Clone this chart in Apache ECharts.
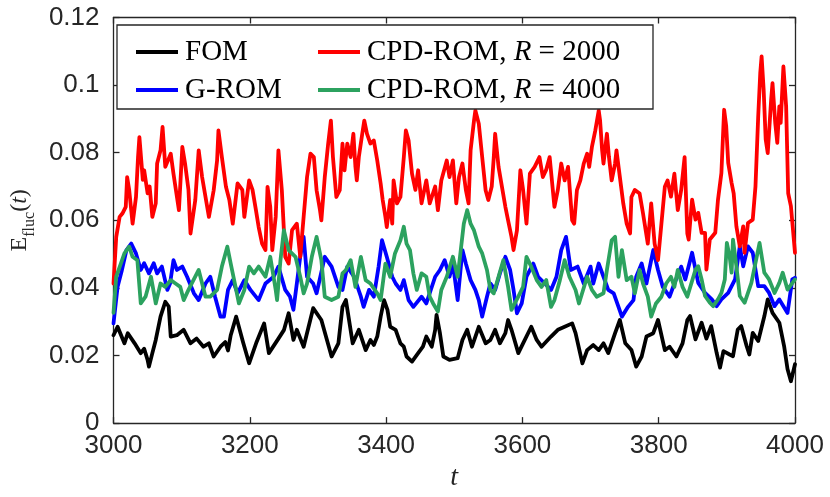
<!DOCTYPE html>
<html>
<head>
<meta charset="utf-8">
<script src="https://cdn.jsdelivr.net/npm/echarts@6/dist/echarts.min.js"></script>
<style>html,body{margin:0;padding:0;background:#fff;}#c{width:830px;height:497px;}</style>
</head>
<body>
<div id="c"></div>
<script>
const xTicks = [3000, 3200, 3400, 3600, 3800, 4000];
const yTicks = [0, 0.02, 0.04, 0.06, 0.08, 0.1, 0.12];
const seriesNames = ['FOM', 'G-ROM', 'CPD-ROM, R = 2000', 'CPD-ROM, R = 4000'];

const fom = [[3000,0.026],[3001,0.0256],[3006,0.0285],[3016,0.0236],[3021,0.0266],[3031,0.0236],[3040,0.0207],[3045,0.022],[3050,0.0187],[3052,0.0167],[3057,0.0207],[3062,0.0246],[3069,0.0315],[3076,0.0359],[3081,0.0345],[3084,0.0256],[3093,0.026],[3103,0.0276],[3113,0.0236],[3122,0.025],[3132,0.0226],[3140,0.0236],[3147,0.0197],[3157,0.0226],[3164,0.024],[3168,0.0215],[3172,0.026],[3180,0.0315],[3190,0.024],[3199,0.0177],[3210,0.024],[3221,0.0295],[3228,0.0207],[3242,0.025],[3250,0.0275],[3257,0.0325],[3264,0.0246],[3269,0.0276],[3279,0.0226],[3293,0.034],[3305,0.0305],[3320,0.0197],[3330,0.0236],[3336,0.0344],[3341,0.0364],[3351,0.0236],[3360,0.0276],[3370,0.0216],[3377,0.0246],[3382,0.0231],[3387,0.0256],[3392,0.0315],[3397,0.0364],[3402,0.0335],[3406,0.0285],[3414,0.0276],[3421,0.0236],[3426,0.0226],[3430,0.0197],[3438,0.0182],[3447,0.0207],[3454,0.0226],[3459,0.0256],[3467,0.0226],[3472,0.0276],[3474,0.032],[3479,0.0266],[3484,0.0197],[3493,0.0187],[3505,0.0192],[3512,0.0246],[3519,0.0276],[3526,0.0226],[3536,0.0285],[3546,0.0236],[3553,0.0246],[3560,0.0276],[3567,0.0236],[3575,0.0266],[3579,0.0305],[3584,0.0276],[3594,0.0207],[3601,0.0236],[3613,0.0285],[3621,0.0246],[3628,0.0226],[3642,0.0256],[3652,0.0276],[3662,0.0285],[3673,0.0295],[3678,0.0266],[3688,0.0177],[3695,0.0216],[3704,0.0231],[3712,0.0216],[3719,0.0236],[3726,0.0207],[3736,0.0266],[3743,0.0305],[3751,0.0236],[3760,0.0216],[3767,0.0167],[3775,0.0197],[3782,0.0256],[3792,0.0266],[3799,0.0305],[3809,0.0216],[3816,0.0226],[3826,0.0197],[3835,0.0236],[3842,0.0305],[3846,0.0317],[3854,0.0248],[3863,0.0297],[3870,0.025],[3877,0.0287],[3885,0.0208],[3890,0.0164],[3895,0.0213],[3904,0.0203],[3909,0.0198],[3916,0.0277],[3921,0.0287],[3929,0.0228],[3933,0.0203],[3938,0.0267],[3946,0.0243],[3955,0.0316],[3960,0.0366],[3967,0.0326],[3977,0.0297],[3984,0.0228],[3989,0.016],[3994,0.0124],[4000,0.0174]];

const grom = [[3000,0.0295],[3006,0.0403],[3012,0.045],[3019,0.0512],[3026,0.0531],[3033,0.0502],[3040,0.0453],[3045,0.0473],[3052,0.0443],[3059,0.0473],[3064,0.0443],[3071,0.0463],[3079,0.0394],[3083,0.0413],[3088,0.0482],[3093,0.0453],[3101,0.0463],[3108,0.0433],[3118,0.0384],[3125,0.0364],[3135,0.0413],[3142,0.0433],[3149,0.0374],[3157,0.0315],[3162,0.0315],[3168,0.0394],[3175,0.0423],[3182,0.0384],[3192,0.0423],[3201,0.0394],[3213,0.0364],[3223,0.0413],[3235,0.0433],[3242,0.0463],[3252,0.0394],[3259,0.0374],[3264,0.0335],[3269,0.0413],[3274,0.0492],[3279,0.0551],[3284,0.0433],[3293,0.0413],[3298,0.0384],[3310,0.0492],[3320,0.0463],[3330,0.0403],[3336,0.0394],[3343,0.0463],[3353,0.0433],[3363,0.0374],[3367,0.0344],[3375,0.0394],[3382,0.0374],[3389,0.0463],[3394,0.0541],[3401,0.0492],[3409,0.0433],[3414,0.0413],[3421,0.0394],[3426,0.0423],[3433,0.0364],[3440,0.0344],[3452,0.0374],[3459,0.0354],[3472,0.0433],[3479,0.0453],[3486,0.0482],[3493,0.0433],[3498,0.0472],[3505,0.0364],[3512,0.0512],[3517,0.0472],[3524,0.0423],[3531,0.0394],[3536,0.0364],[3541,0.0315],[3548,0.0374],[3553,0.0413],[3560,0.0394],[3567,0.0443],[3575,0.0492],[3582,0.0453],[3587,0.0394],[3592,0.0325],[3599,0.0354],[3606,0.0433],[3616,0.0472],[3623,0.0433],[3633,0.0413],[3642,0.0394],[3650,0.0433],[3657,0.0512],[3664,0.0551],[3671,0.0453],[3681,0.0463],[3690,0.0413],[3700,0.0463],[3704,0.0413],[3712,0.0472],[3719,0.0433],[3726,0.0394],[3734,0.0384],[3741,0.0344],[3746,0.0315],[3755,0.0344],[3763,0.0364],[3767,0.0433],[3775,0.0472],[3782,0.0413],[3792,0.0512],[3799,0.0453],[3806,0.0403],[3816,0.0374],[3823,0.0413],[3833,0.0463],[3839,0.0425],[3849,0.0504],[3858,0.0415],[3868,0.0385],[3878,0.0366],[3885,0.0346],[3892,0.0366],[3902,0.0385],[3912,0.0425],[3919,0.0523],[3924,0.0464],[3931,0.0523],[3938,0.0504],[3946,0.0405],[3955,0.0405],[3962,0.0385],[3970,0.0346],[3977,0.0366],[3989,0.0326],[3996,0.0425],[4000,0.043]];

const cpd2000 = [[3000,0.0413],[3004,0.0551],[3009,0.061],[3013,0.062],[3018,0.064],[3020,0.0728],[3023,0.069],[3028,0.059],[3033,0.0669],[3036,0.0787],[3038,0.0846],[3043,0.072],[3045,0.0748],[3050,0.068],[3053,0.07],[3057,0.061],[3062,0.065],[3064,0.0768],[3069,0.0807],[3072,0.0876],[3076,0.0758],[3084,0.0797],[3088,0.0738],[3096,0.063],[3101,0.0817],[3105,0.0768],[3110,0.069],[3113,0.0561],[3120,0.066],[3125,0.0807],[3130,0.0728],[3140,0.061],[3147,0.0689],[3152,0.0777],[3154,0.0866],[3159,0.0787],[3165,0.0699],[3170,0.066],[3175,0.059],[3182,0.0709],[3189,0.069],[3192,0.061],[3199,0.0718],[3204,0.069],[3209,0.063],[3213,0.058],[3218,0.0531],[3223,0.0512],[3226,0.0699],[3230,0.064],[3233,0.0512],[3238,0.061],[3242,0.0807],[3247,0.0689],[3252,0.0492],[3257,0.0472],[3262,0.0571],[3269,0.059],[3274,0.0492],[3279,0.061],[3284,0.0728],[3289,0.0797],[3294,0.0787],[3298,0.0689],[3303,0.063],[3305,0.06],[3310,0.0728],[3315,0.0827],[3319,0.0895],[3322,0.0787],[3327,0.0669],[3332,0.0689],[3336,0.0827],[3339,0.0748],[3343,0.0827],[3348,0.0787],[3352,0.0856],[3355,0.0758],[3357,0.0718],[3360,0.0787],[3365,0.0856],[3368,0.0895],[3372,0.0856],[3377,0.0827],[3382,0.0836],[3387,0.0777],[3392,0.0709],[3395,0.066],[3399,0.061],[3401,0.058],[3406,0.066],[3409,0.059],[3411,0.0718],[3416,0.065],[3421,0.0669],[3426,0.0787],[3429,0.0866],[3433,0.0836],[3438,0.0738],[3443,0.069],[3447,0.0748],[3452,0.065],[3459,0.0718],[3464,0.065],[3472,0.07],[3476,0.063],[3481,0.0718],[3489,0.0777],[3493,0.0728],[3498,0.0777],[3503,0.065],[3507,0.0728],[3512,0.0768],[3517,0.069],[3521,0.065],[3524,0.0807],[3529,0.0895],[3531,0.0925],[3536,0.0886],[3541,0.0787],[3546,0.0689],[3550,0.066],[3555,0.07],[3558,0.0787],[3560,0.0856],[3565,0.0758],[3570,0.0699],[3575,0.064],[3579,0.06],[3584,0.0551],[3587,0.0512],[3592,0.057],[3597,0.0748],[3601,0.069],[3606,0.059],[3611,0.0738],[3618,0.0758],[3625,0.0787],[3630,0.0728],[3635,0.075],[3640,0.0787],[3647,0.064],[3652,0.069],[3657,0.0768],[3662,0.0718],[3667,0.0758],[3673,0.06],[3676,0.059],[3680,0.0689],[3685,0.0718],[3690,0.0768],[3695,0.0797],[3698,0.0758],[3702,0.0817],[3707,0.0866],[3712,0.0925],[3714,0.0895],[3717,0.0807],[3719,0.0768],[3724,0.0856],[3727,0.0787],[3731,0.0718],[3736,0.0768],[3738,0.0807],[3743,0.0728],[3748,0.065],[3753,0.059],[3758,0.0561],[3760,0.0669],[3765,0.069],[3772,0.0679],[3777,0.062],[3784,0.0531],[3789,0.065],[3794,0.0531],[3799,0.0482],[3804,0.059],[3809,0.0699],[3813,0.0718],[3818,0.067],[3823,0.0738],[3828,0.063],[3833,0.069],[3838,0.0787],[3842,0.0561],[3844,0.0543],[3849,0.0661],[3854,0.0602],[3858,0.0622],[3863,0.0563],[3868,0.0563],[3870,0.0454],[3875,0.0543],[3883,0.0563],[3887,0.0661],[3892,0.074],[3896,0.0927],[3899,0.088],[3902,0.077],[3907,0.071],[3910,0.068],[3914,0.0582],[3919,0.0523],[3924,0.0582],[3926,0.0504],[3931,0.0592],[3938,0.0602],[3942,0.07],[3946,0.0907],[3949,0.1035],[3951,0.1085],[3954,0.0986],[3957,0.0839],[3960,0.0799],[3965,0.0957],[3967,0.1006],[3971,0.0888],[3974,0.0829],[3977,0.0937],[3979,0.0888],[3983,0.1055],[3987,0.0937],[3990,0.068],[3994,0.0642],[4000,0.0504]];

const cpd4000 = [[3000,0.0326],[3004,0.0433],[3011,0.0473],[3016,0.0502],[3023,0.0522],[3028,0.0492],[3035,0.0482],[3040,0.0354],[3047,0.0374],[3055,0.0433],[3062,0.0354],[3069,0.0413],[3076,0.0403],[3084,0.0423],[3091,0.0413],[3098,0.0403],[3103,0.0364],[3110,0.0394],[3125,0.0453],[3135,0.0374],[3142,0.0374],[3152,0.0394],[3159,0.0463],[3167,0.0522],[3172,0.0472],[3180,0.0394],[3184,0.0354],[3192,0.0394],[3199,0.0463],[3206,0.0443],[3213,0.0463],[3223,0.0433],[3230,0.0492],[3238,0.0394],[3240,0.0364],[3245,0.0482],[3250,0.0571],[3257,0.0512],[3267,0.0492],[3274,0.0433],[3279,0.0384],[3284,0.0413],[3291,0.0492],[3298,0.0551],[3305,0.0482],[3310,0.0374],[3320,0.0364],[3330,0.0374],[3336,0.0443],[3341,0.0453],[3348,0.0482],[3355,0.0403],[3363,0.0492],[3370,0.0423],[3377,0.0413],[3387,0.0384],[3392,0.0364],[3399,0.0472],[3406,0.0433],[3413,0.0502],[3421,0.0541],[3426,0.0581],[3430,0.0531],[3435,0.0512],[3440,0.0443],[3445,0.0394],[3452,0.0443],[3459,0.0433],[3464,0.0374],[3469,0.0354],[3476,0.033],[3481,0.0394],[3489,0.0433],[3498,0.0492],[3505,0.0433],[3509,0.0502],[3514,0.059],[3519,0.063],[3524,0.059],[3529,0.057],[3536,0.0522],[3541,0.0502],[3548,0.0453],[3553,0.0394],[3558,0.0384],[3565,0.0433],[3572,0.0482],[3579,0.0403],[3584,0.0335],[3594,0.0374],[3601,0.0403],[3606,0.0492],[3613,0.0463],[3621,0.0423],[3628,0.0403],[3635,0.0423],[3642,0.0344],[3647,0.0364],[3655,0.0423],[3662,0.0482],[3669,0.0433],[3678,0.0394],[3683,0.0354],[3695,0.0433],[3702,0.0394],[3709,0.0374],[3719,0.0384],[3724,0.0453],[3731,0.0541],[3736,0.0551],[3741,0.0433],[3746,0.0512],[3753,0.0423],[3760,0.0433],[3765,0.0384],[3772,0.0453],[3777,0.0413],[3784,0.0374],[3789,0.0315],[3796,0.0354],[3804,0.0374],[3811,0.0413],[3818,0.0433],[3823,0.0403],[3828,0.0453],[3835,0.0403],[3842,0.0374],[3854,0.0454],[3858,0.0464],[3863,0.0425],[3868,0.0376],[3875,0.0356],[3880,0.0346],[3887,0.0366],[3892,0.0385],[3897,0.0425],[3900,0.0533],[3904,0.0494],[3907,0.0445],[3909,0.0543],[3914,0.0464],[3919,0.0376],[3926,0.0356],[3936,0.0415],[3943,0.0484],[3948,0.0533],[3955,0.0445],[3962,0.0425],[3970,0.0385],[3977,0.0415],[3982,0.0445],[3989,0.0395],[4000,0.0425]];

const colors = ['#000000', '#0000ff', '#ff0000', '#2ca25f'];
const seriesData = [fom, grom, cpd2000, cpd4000];

const axisColor = '#262626';
const tickFont = 'Liberation Sans, Arial, sans-serif';
const serifFont = 'Liberation Serif, Times New Roman, serif';

function baseAxis(extra) {
  return Object.assign({
    type: 'value',
    axisLine: { show: true, onZero: false, lineStyle: { color: axisColor, width: 1.3 } },
    axisTick: { show: true, inside: true, length: 6, lineStyle: { color: axisColor, width: 1.3 } },
    splitLine: { show: false },
    axisLabel: { color: axisColor, fontSize: 26, fontFamily: tickFont }
  }, extra);
}

const chart = echarts.init(document.getElementById('c'));
const legendFmt = function (name) {
  return name.replace(' R ', ' {i|R} ');
};
const legendCommon = {
  orient: 'vertical',
  icon: 'rect',
  itemWidth: 42,
  itemHeight: 4,
  itemGap: 8,
  z: 100,
  formatter: legendFmt,
  textStyle: {
    fontFamily: serifFont, fontSize: 29, color: '#000', lineHeight: 30,
    padding: [0, 0, 0, 2],
    rich: { i: { fontFamily: serifFont, fontSize: 29, fontStyle: 'italic', color: '#000' } }
  }
};

chart.setOption({
  animation: false,
  backgroundColor: '#fff',
  grid: { left: 106, right: 35, top: 17.5, bottom: 73.5 },
  xAxis: [
    baseAxis({
      min: xTicks[0], max: xTicks[xTicks.length - 1], interval: 200,
      axisLabel: { color: axisColor, fontSize: 26, fontFamily: tickFont, margin: 10, formatter: function (v) { return String(v); } },
      name: '{i|t}', nameLocation: 'middle', nameGap: 40,
      nameTextStyle: { rich: { i: { fontFamily: serifFont, fontStyle: 'italic', fontSize: 28, color: axisColor } } }
    }),
    baseAxis({
      position: 'top', min: xTicks[0], max: xTicks[xTicks.length - 1], interval: 200,
      axisLabel: { show: false }
    })
  ],
  yAxis: [
    baseAxis({
      min: yTicks[0], max: yTicks[yTicks.length - 1], interval: 0.02,
      axisLabel: { color: axisColor, fontSize: 26, fontFamily: tickFont, margin: 14, formatter: function (v) { return String(+v.toFixed(2)); } },
      name: '{e|E}{s|fluc}{p|(}{i|t}{p|)}', nameLocation: 'middle', nameGap: 80, nameRotate: 90,
      nameTextStyle: {
        rich: {
          e: { fontFamily: serifFont, fontSize: 24, color: axisColor, lineHeight: 28, verticalAlign: 'bottom' },
          s: { fontFamily: serifFont, fontSize: 16, color: axisColor, lineHeight: 28, verticalAlign: 'bottom', padding: [0, 0, -6, 0] },
          p: { fontFamily: serifFont, fontSize: 24, color: axisColor, lineHeight: 28, verticalAlign: 'bottom' },
          i: { fontFamily: serifFont, fontSize: 24, fontStyle: 'italic', color: axisColor, lineHeight: 28, verticalAlign: 'bottom' }
        }
      }
    }),
    baseAxis({
      position: 'right', min: yTicks[0], max: yTicks[yTicks.length - 1], interval: 0.02,
      axisLabel: { show: false }
    })
  ],
  legend: [
    Object.assign({}, legendCommon, { left: 131, top: 32, data: [seriesNames[0], seriesNames[1]] }),
    Object.assign({}, legendCommon, { left: 313, top: 32, data: [seriesNames[2], seriesNames[3]] })
  ],
  graphic: [{
    type: 'rect', z: 50,
    shape: { x: 117, y: 25, width: 536, height: 84 },
    style: { fill: '#fff', stroke: axisColor, lineWidth: 1.3 }
  }],
  series: seriesNames.map(function (n, k) {
    return {
      name: n, type: 'line', xAxisIndex: 0, yAxisIndex: 0,
      data: seriesData[k], symbol: 'none', smooth: false,
      lineStyle: { color: colors[k], width: 3.8, join: 'round', cap: 'round' },
      itemStyle: { color: colors[k] },
      z: 2 + k
    };
  })
});
</script>
</body>
</html>
